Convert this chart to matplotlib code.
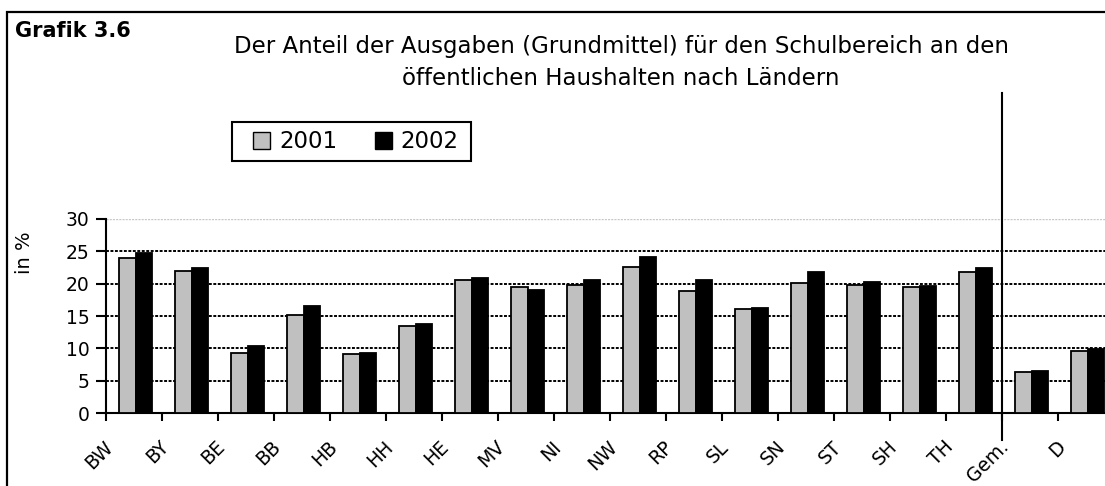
import numpy as np
import matplotlib
matplotlib.use('Agg')
import matplotlib.pyplot as plt
from matplotlib.patches import Rectangle, Patch
from matplotlib.transforms import ScaledTranslation

# the original is a horizontally stretched Arial; DejaVu Sans has about that width
plt.rcParams['font.family'] = ['DejaVu Sans']

laender = ['BW', 'BY', 'BE', 'BB', 'HB', 'HH', 'HE', 'MV', 'NI', 'NW',
           'RP', 'SL', 'SN', 'ST', 'SH', 'TH', 'Gem.', 'D']
werte_2001 = [23.9, 22.0, 9.3, 15.2, 9.2, 13.4, 20.5, 19.5, 19.8, 22.6,
              18.9, 16.1, 20.1, 19.8, 19.5, 21.8, 6.4, 9.6]
werte_2002 = [24.8, 22.4, 10.3, 16.5, 9.3, 13.7, 20.8, 19.0, 20.5, 24.2,
              20.5, 16.2, 21.8, 20.2, 19.6, 22.4, 6.5, 9.9]
jahre = ['2001', '2002']

W, H = 1105, 486
fig = plt.figure(figsize=(W / 100, H / 100), dpi=100)

# plot area: 56 px per category, the last one runs past the right edge
ax = fig.add_axes([106 / W, (H - 413) / H, 18 * 56 / W, 194 / H])

ind = np.arange(len(laender))
bw = 0.3
ax.bar(ind - bw / 2 + 0.03, werte_2001, bw, color='#c0c0c0', edgecolor='black',
       linewidth=1.3, zorder=3)
ax.bar(ind + bw / 2 + 0.03, werte_2002, bw, color='black', edgecolor='black',
       linewidth=1.3, zorder=3)

ax.set_xlim(-0.5, len(laender) - 0.5)
ax.set_ylim(0, 30)
ax.set_yticks(np.arange(0, 31, 5))
ax.tick_params(axis='y', direction='out', length=7, width=1.5, pad=5, labelsize=13.5)
for y in range(5, 30, 5):
    ax.axhline(y, color='black', linestyle=(0, (1.5, 0.8)), linewidth=1.4, zorder=1)
ax.axhline(30, color='#c8c8c8', linestyle=(0, (1.5, 0.8)), linewidth=1.0, zorder=1)

# x ticks at category boundaries, labels at category centres
ax.set_xticks(np.arange(-0.5, len(laender), 1.0))
ax.set_xticklabels([])
ax.tick_params(axis='x', direction='out', length=6, width=1.5)
ax.set_xticks(ind, minor=True)
ax.set_xticklabels(laender, minor=True, rotation=45, ha='right', va='center',
                   rotation_mode='anchor', fontsize=13.5)
ax.tick_params(axis='x', which='minor', length=0, pad=0)
off = ScaledTranslation(-24 / 100, -31 / 100, fig.dpi_scale_trans)
for lbl in ax.get_xticklabels(minor=True):
    lbl.set_transform(lbl.get_transform() + off)

for s in ['top', 'right']:
    ax.spines[s].set_visible(False)
ax.spines['left'].set_linewidth(1.5)
ax.spines['bottom'].set_linewidth(1.5)

ax.set_ylabel('in %', fontsize=14)
ax.yaxis.set_label_coords(-72 / (18 * 56), 0.827)

# separator between the Länder and Gem./D
ax.axvline(15.5, ymin=-27 / 194, ymax=(413 - 93) / 194, color='black',
           linewidth=1.5, clip_on=False, zorder=4)

# legend without its own frame, the box is drawn below
leg = ax.legend(handles=[Patch(facecolor='#c0c0c0', edgecolor='black', label=jahre[0]),
                         Patch(facecolor='black', edgecolor='black', label=jahre[1])],
                ncol=2, fontsize=16.5, frameon=False,
                loc='center left', bbox_to_anchor=(253 / W, 1 - 142 / H),
                bbox_transform=fig.transFigure,
                handlelength=0.75, handleheight=0.75, handletextpad=0.38,
                columnspacing=1.65, borderpad=0, borderaxespad=0)
fig.patches.append(Rectangle((232 / W, 1 - 161 / H), 239 / W, 39 / H,
                             transform=fig.transFigure, fill=False,
                             edgecolor='black', linewidth=1.5))

# outer frame of the graphic
fig.patches.append(Rectangle((7 / W, -0.1), 1.2, 1.1 - 12 / H, transform=fig.transFigure,
                             fill=False, edgecolor='black', linewidth=1.6))

fig.text(15 / W, 1 - 37 / H, 'Grafik 3.6', fontsize=15, fontweight='bold',
         ha='left', va='baseline')
fig.text(621 / W, 1 - 53 / H, 'Der Anteil der Ausgaben (Grundmittel) für den Schulbereich an den',
         fontsize=16.5, ha='center', va='baseline')
fig.text(621 / W, 1 - 85 / H, 'öffentlichen Haushalten nach Ländern',
         fontsize=16.5, ha='center', va='baseline')

fig.savefig('out.png', dpi=100)
